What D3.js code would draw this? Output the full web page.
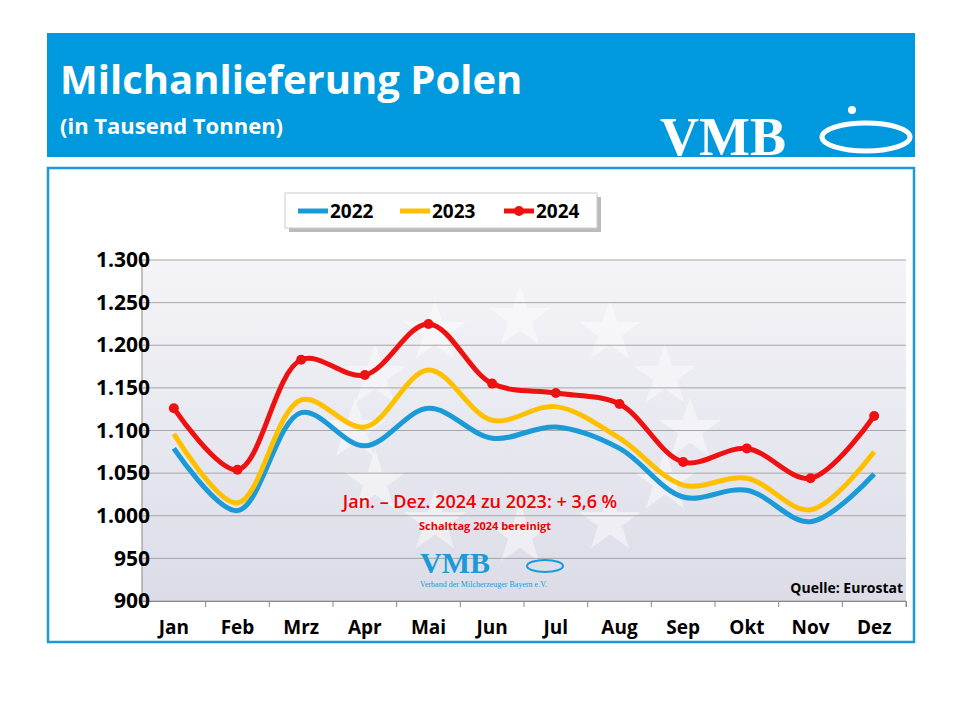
<!DOCTYPE html>
<html><head><meta charset="utf-8">
<script src="https://cdn.jsdelivr.net/npm/d3@7"></script>
<style>body{margin:0;background:#fff}svg{display:block}</style></head>
<body><svg id="c" width="960" height="720"></svg>
<script>
const months=["Jan","Feb","Mrz","Apr","Mai","Jun","Jul","Aug","Sep","Okt","Nov","Dez"];
const v2022=[1079,1006,1121,1082,1126,1091,1104,1079,1022,1030,993,1049];
const v2023=[1096,1015,1136,1104,1171,1112,1128,1091,1036,1044,1007,1075];
const v2024=[1126,1054,1183,1165,1225,1155,1144,1131,1063,1079,1044,1117];
const yTicks=[900,950,1000,1050,1100,1150,1200,1250,1300];
const series=[{name:"2022",values:v2022,color:"#1a9ad6",dots:false},
{name:"2023",values:v2023,color:"#ffc000",dots:false},
{name:"2024",values:v2024,color:"#ee1111",dots:true}];
const svg=d3.select("#c");
const F="'Open Sans', 'DejaVu Sans', sans-serif";
svg.append("rect").attr("x",47).attr("y",33).attr("width",868).attr("height",124).attr("fill","#0099dd");
svg.append("text").attr("x",60).attr("y",94).attr("fill","#fff").attr("font-family",F).attr("font-weight","bold").attr("font-size",40).text("Milchanlieferung Polen");
svg.append("text").attr("x",60).attr("y",134).attr("fill","#fff").attr("font-family",F).attr("font-weight","bold").attr("font-size",22).text("(in Tausend Tonnen)");
svg.append("text").attr("x",660).attr("y",155).attr("fill","#fff").attr("font-family","'Liberation Serif', serif").attr("font-weight","bold").attr("font-size",54).text("VMB");
svg.append("ellipse").attr("cx",866).attr("cy",137).attr("rx",44).attr("ry",14).attr("fill","none").attr("stroke","#fff").attr("stroke-width",5);
svg.append("circle").attr("cx",852).attr("cy",110).attr("r",4).attr("fill","#fff");
svg.append("rect").attr("x",48).attr("y",168).attr("width",866).attr("height",474).attr("fill","#fff").attr("stroke","#1a9ad6").attr("stroke-width",2.5);
const L=142,R=906,T=260,B=601;
const defs=svg.append("defs");
const g=defs.append("linearGradient").attr("id","bg").attr("x1",0).attr("y1",0).attr("x2",0).attr("y2",1);
g.append("stop").attr("offset",0).attr("stop-color","#f4f4f8");
g.append("stop").attr("offset",1).attr("stop-color","#dcdce8");
svg.append("rect").attr("x",L).attr("y",T).attr("width",R-L).attr("height",B-T).attr("fill","url(#bg)");
const star=d3.symbol().type(d3.symbolStar).size(1200);
[[520,318],[610,332],[665,376],[690,430],[665,482],[610,522],[520,535],[435,522],[375,482],[355,430],[375,376],[435,332]].forEach(p=>
svg.append("path").attr("d",star()).attr("transform",`translate(${p[0]},${p[1]})`).attr("fill","#fff").attr("opacity",0.45));
const x=d3.scaleBand().domain(months).range([L,R]);
const y=d3.scaleLinear().domain([900,1300]).range([B,T]);
svg.append("g").selectAll("line").data(yTicks).join("line").attr("x1",L).attr("x2",R).attr("y1",d=>y(d)).attr("y2",d=>y(d)).attr("stroke","#a6a6a6").attr("stroke-width",1);
const xa=svg.append("g").attr("transform",`translate(0,${B})`).call(d3.axisBottom(x).tickSize(6));
xa.select(".domain").attr("stroke","#888");
xa.selectAll(".tick line").attr("transform",`translate(${-x.bandwidth()/2},0)`).attr("stroke","#888");
xa.selectAll("text").attr("font-family",F).attr("font-weight","bold").attr("font-size",19).attr("fill","#000").attr("dy","1.25em");
svg.append("line").attr("x1",R).attr("x2",R).attr("y1",B).attr("y2",B+6).attr("stroke","#888");
svg.append("line").attr("x1",L).attr("x2",L).attr("y1",T).attr("y2",B).attr("stroke","#888");
const ya=svg.append("g").attr("transform",`translate(${L},0)`).call(d3.axisLeft(y).tickValues(yTicks).tickSize(0).tickPadding(-4).tickFormat(d=>d3.format(",")(d).replace(",",".")));
ya.select(".domain").remove();
ya.selectAll("text").attr("font-family",F).attr("font-weight","bold").attr("font-size",21).attr("fill","#000").attr("transform","translate(4,0)");
const line=d3.line().x((d,i)=>x(months[i])+x.bandwidth()/2).y(d=>y(d)).curve(d3.curveCatmullRom.alpha(0.5));
series.forEach(s=>{
svg.append("path").attr("d",line(s.values)).attr("fill","none").attr("stroke",s.color).attr("stroke-width",5);
if(s.dots) svg.append("g").selectAll("circle").data(s.values).join("circle").attr("cx",(d,i)=>x(months[i])+x.bandwidth()/2).attr("cy",d=>y(d)).attr("r",5).attr("fill",s.color);
});
svg.append("text").attr("x",480).attr("y",508).attr("text-anchor","middle").attr("fill","#e00").attr("font-family",F).attr("font-weight","600").attr("font-size",18).text("Jan. – Dez. 2024 zu 2023: + 3,6 %");
svg.append("text").attr("x",485).attr("y",530).attr("text-anchor","middle").attr("fill","#e00").attr("font-family",F).attr("font-weight","bold").attr("font-size",11).text("Schalttag 2024 bereinigt");
svg.append("text").attr("x",420).attr("y",573).attr("fill","#1a9ad6").attr("font-family","'Liberation Serif', serif").attr("font-weight","bold").attr("font-size",30).text("VMB");
svg.append("ellipse").attr("cx",545).attr("cy",566).attr("rx",18).attr("ry",6).attr("fill","none").attr("stroke","#1a9ad6").attr("stroke-width",2);
svg.append("text").attr("x",420).attr("y",587).attr("fill","#1a9ad6").attr("font-family","'Liberation Serif', serif").attr("font-size",8).text("Verband der Milcherzeuger Bayern e.V.");
svg.append("text").attr("x",903).attr("y",593).attr("text-anchor","end").attr("fill","#000").attr("font-family",F).attr("font-weight","bold").attr("font-size",14).text("Quelle: Eurostat");
svg.append("rect").attr("x",289).attr("y",197).attr("width",312).attr("height",35).attr("fill","#bbb");
svg.append("rect").attr("x",285).attr("y",193).attr("width",312).attr("height",35).attr("fill","#fff").attr("stroke","#ccc");
const lx=[298,400,504];
series.forEach((s,i)=>{
svg.append("line").attr("x1",lx[i]).attr("x2",lx[i]+30).attr("y1",211).attr("y2",211).attr("stroke",s.color).attr("stroke-width",5);
if(s.dots) svg.append("circle").attr("cx",lx[i]+15).attr("cy",211).attr("r",5).attr("fill",s.color);
svg.append("text").attr("x",lx[i]+32).attr("y",218).attr("font-family",F).attr("font-weight","bold").attr("font-size",19).text(s.name);
});
</script></body></html>
